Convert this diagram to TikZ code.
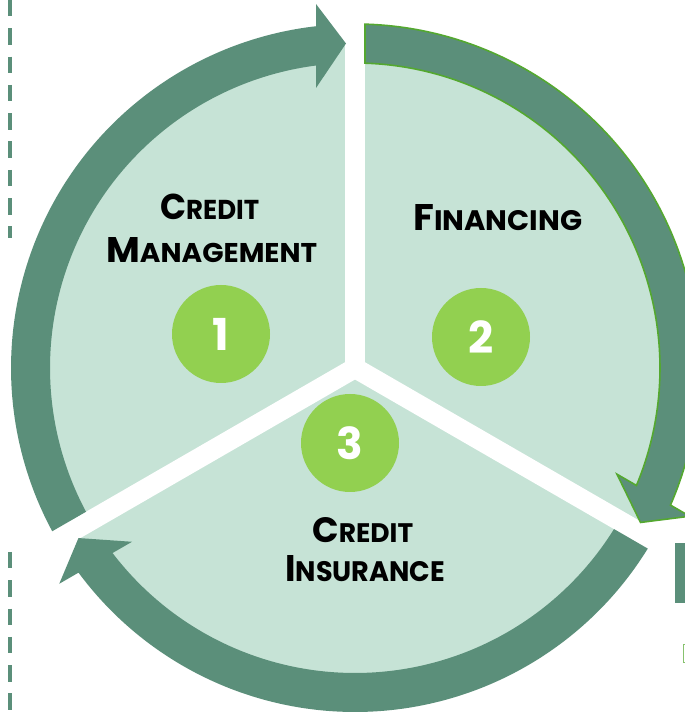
\documentclass[tikz,border=0pt]{standalone}
\usepackage{fontspec}
\setmainfont{Poppins}
\usetikzlibrary{calc}
\definecolor{ringcol}{HTML}{5B8F7A}
\definecolor{piecol}{HTML}{C6E3D6}
\definecolor{numcol}{HTML}{92D050}
\definecolor{outlinecol}{HTML}{54A830}
\newcommand\fakesc[2]{{\fontsize{36}{36}\selectfont\bfseries #1}{\fontsize{27.4}{27.4}\selectfont\bfseries #2}}
\newcommand\ringarrow[3][]{%
  \path[fill=ringcol,#1]
    ({#2-asin(10/344)}:344) arc[start angle={#2-asin(10/344)}, end angle={#3+asin(39/344)}, radius=344]
    -- ($({#3}:364)+({#3+90}:39)$)
    -- ($({#3}:324.5)+({#3+90}:9)$)
    -- ($({#3}:280)+({#3+90}:39)$)
    -- ({#3+asin(39/305)}:305) arc[start angle={#3+asin(39/305)}, end angle={#2-asin(10/305)}, radius=305]
    -- cycle;}
\begin{document}
\begin{tikzpicture}[x=1pt,y=1pt,
  txt/.style={inner sep=0pt, anchor=base west, text=black},
  numcirc/.style={circle, fill=numcol, minimum size=98pt, inner sep=0pt, text=white, font=\fontsize{44}{44}\selectfont\bfseries},
  gapband/.style={draw=white, line width=20pt},
  dashline/.style={draw=ringcol, line width=4pt, dash pattern=on 16.5pt off 11.8pt}]
\useasboundingbox (0,0) rectangle (685,713);
\clip (0,0) rectangle (685,713);
\coordinate (C) at (355,345);
\begin{scope}[shift={(C)}]
  \fill[piecol] (0,0) circle[radius=324];
  \coordinate (O) at (0,0);
  \coordinate (g1) at (90:370);
  \coordinate (g2) at (210:370);
  \coordinate (g3) at (330:370);
  \draw[gapband] (O) -- (g1);
  \draw[gapband] (O) -- (g2);
  \draw[gapband] (O) -- (g3);
  \ringarrow{210}{90}
  \ringarrow[draw=outlinecol, line width=1.6pt]{90}{-30}
  \ringarrow{330}{210}
\end{scope}
\node[numcirc] (n1) at (221,379) {1};
\node[numcirc] (n2) at (481,376) {2};
\node[numcirc] (n3) at (350,270) {3};
\node[txt] (t1a) at (160,493) {\resizebox{99pt}{25.5pt}{\fakesc{C}{REDIT}}};
\node[txt] (t1b) at (106,450) {\resizebox{211pt}{25pt}{\fakesc{M}{ANAGEMENT}}};
\node[txt] (t2) at (413,482) {\resizebox{169pt}{26pt}{\fakesc{F}{INANCING}}};
\node[txt] (t3a) at (312,170) {\resizebox{101pt}{25pt}{\fakesc{C}{REDIT}}};
\node[txt] (t3b) at (285,131) {\resizebox{160pt}{26pt}{\fakesc{I}{NSURANCE}}};
\coordinate (d1a) at (9.5,713);
\coordinate (d1b) at (9.5,475);
\coordinate (d2a) at (9.5,161);
\coordinate (d2b) at (9.5,0);
\draw[dashline] (d1a) -- (d1b);
\draw[dashline] (d2a) -- (d2b);
\fill[ringcol] (675,170) rectangle (690,110);
\draw[outlinecol!70, line width=1pt] (683.5,68) rectangle (692,50);
\end{tikzpicture}
\end{document}
